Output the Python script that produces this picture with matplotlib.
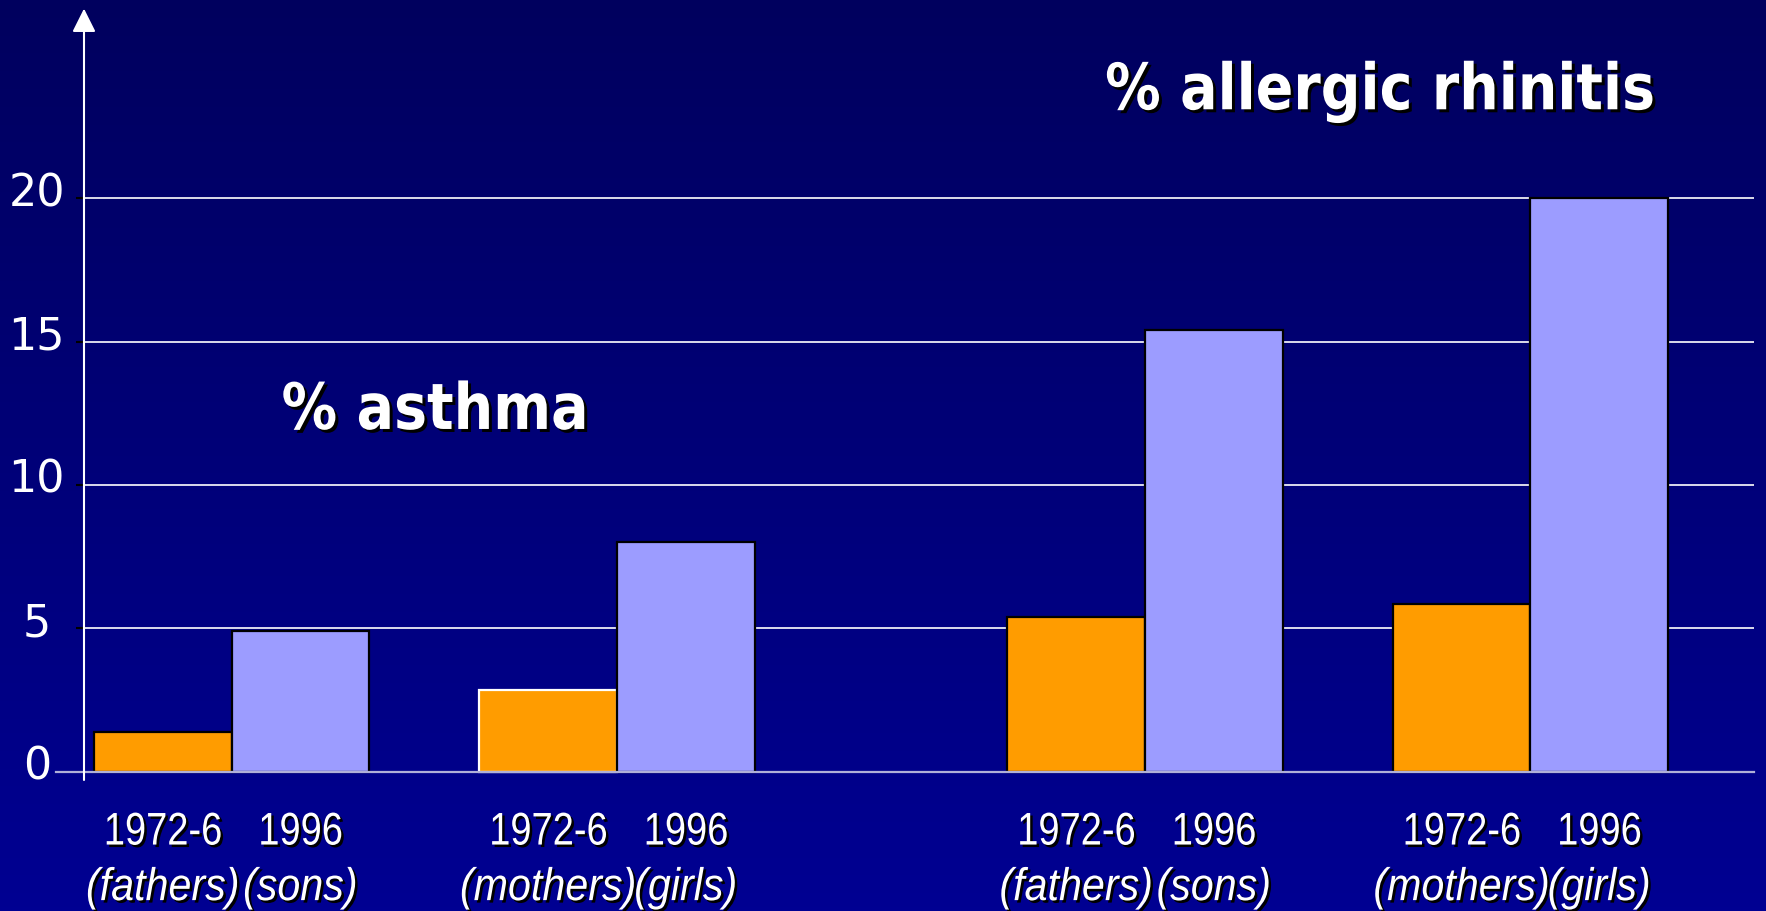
import matplotlib.pyplot as plt
import matplotlib.patheffects as pe
from matplotlib.colors import LinearSegmentedColormap
from matplotlib.transforms import ScaledTranslation, Affine2D
import numpy as np

# data
old_years = ['1972-6', '1972-6', '1972-6', '1972-6']
new_years = ['1996', '1996', '1996', '1996']
old_who = ['(fathers)', '(mothers)', '(fathers)', '(mothers)']
new_who = ['(sons)', '(girls)', '(sons)', '(girls)']
old_values = [1.4, 2.85, 5.4, 5.85]
new_values = [4.9, 8.0, 15.4, 20.0]
y_ticks = [0, 5, 10, 15, 20]

orange = '#FF9C00'
lavender = '#9C9CFF'


# squeezes/stretches text about its centre and adds a black drop shadow
class Squeeze(pe.AbstractPathEffect):
    def __init__(self, sx=1.0, sy=1.0, shadow=2.5):
        super().__init__()
        self.sx, self.sy, self.shadow = sx, sy, shadow

    def draw_path(self, renderer, gc, tpath, affine, rgbFace=None):
        ext = tpath.get_extents()
        cx = (ext.x0 + ext.x1) / 2
        cy = (ext.y0 + ext.y1) / 2
        tr = Affine2D().translate(-cx, -cy).scale(self.sx, self.sy).translate(cx, cy) + affine
        if self.shadow:
            gc0 = renderer.new_gc()
            gc0.copy_properties(gc)
            gc0.set_foreground('black')
            renderer.draw_path(gc0, tpath, tr + Affine2D().translate(self.shadow, -self.shadow), (0, 0, 0))
            gc0.restore()
        renderer.draw_path(gc, tpath, tr, rgbFace)


fig = plt.figure(figsize=(17.66, 9.11), dpi=100)

# gradient background
bg = fig.add_axes([0, 0, 1, 1], zorder=-10)
cmap = LinearSegmentedColormap.from_list('navy', ['#000092', '#00005E'])
bg.imshow(np.linspace(0, 1, 256).reshape(-1, 1), aspect='auto', cmap=cmap,
          extent=[0, 1, 0, 1], origin='lower')
bg.axis('off')

ax = fig.add_axes([84 / 1766, 131 / 911, (1754 - 84) / 1766, 780 / 911])
ax.set_facecolor('none')

# group layout: a wider gap between the asthma and rhinitis pairs
centers = np.array([0, 1, 2.37, 3.37])
w = 0.357
x_old = centers - w / 2
x_new = centers + w / 2

old_edges = ['black', 'white', 'black', 'black']
ax.bar(x_old, old_values, width=w, color=orange, edgecolor=old_edges, linewidth=1.6, zorder=2)
ax.bar(x_new, new_values, width=w, color=lavender, edgecolor='black', linewidth=1.6, zorder=2)

ax.set_xlim(-0.383, 3.95)
ax.set_ylim(-0.28, 26.9)

ax.set_axisbelow(True)
ax.set_yticks(y_ticks)
ax.yaxis.grid(True, color='white', linewidth=1.2)
ax.axhline(0, xmin=-0.017, xmax=1, color='#B0B0D8', linewidth=1.6, zorder=3, clip_on=False)

for s in ax.spines.values():
    s.set_visible(False)

# y axis with arrow head
ax.annotate('', xy=(0, 26.6), xytext=(0, -0.28), xycoords=ax.get_yaxis_transform(),
            arrowprops=dict(arrowstyle='-|>,head_length=0.4,head_width=0.2', color='white',
                            lw=1.5, mutation_scale=36, shrinkA=0, shrinkB=0))

ax.tick_params(axis='y', length=6, width=1.5, color='black', pad=28, labelsize=32, labelcolor='white')
ax.set_yticklabels([str(t) for t in y_ticks], ha='center', family='DejaVu Sans')
off = ScaledTranslation(0, 0.09, fig.dpi_scale_trans)
for lab in ax.get_yticklabels():
    lab.set_transform(lab.get_transform() + off)

# x labels: year on the major ticks, who on the minor ticks
xs = []
tops = []
bottoms = []
for i in range(len(centers)):
    xs += [x_old[i], x_new[i]]
    tops += [old_years[i], new_years[i]]
    bottoms += [old_who[i], new_who[i]]

ax.xaxis.remove_overlapping_locs = False
ax.set_xticks(xs)
ax.set_xticklabels(tops, family='Liberation Sans', fontsize=33, color='white')
ax.set_xticks(xs, minor=True)
ax.set_xticklabels(bottoms, minor=True, family='Liberation Sans',
                   fontsize=33, style='italic', color='white')
ax.tick_params(axis='x', which='major', length=0, pad=22)
ax.tick_params(axis='x', which='minor', length=0, pad=62)
for lab in ax.get_xticklabels():
    lab.set_path_effects([Squeeze(sx=0.83)])
for lab in ax.get_xticklabels(minor=True):
    lab.set_path_effects([Squeeze(sx=0.9)])

fig.text(0.7813, 0.899, '% allergic rhinitis', ha='center', va='center', fontsize=40,
         fontweight='bold', color='white', path_effects=[Squeeze(sy=1.15, shadow=3)])
fig.text(0.2463, 0.549, '% asthma', ha='center', va='center', fontsize=40,
         fontweight='bold', color='white', path_effects=[Squeeze(sy=1.15, shadow=3)])

fig.savefig('out.png', dpi=100)
